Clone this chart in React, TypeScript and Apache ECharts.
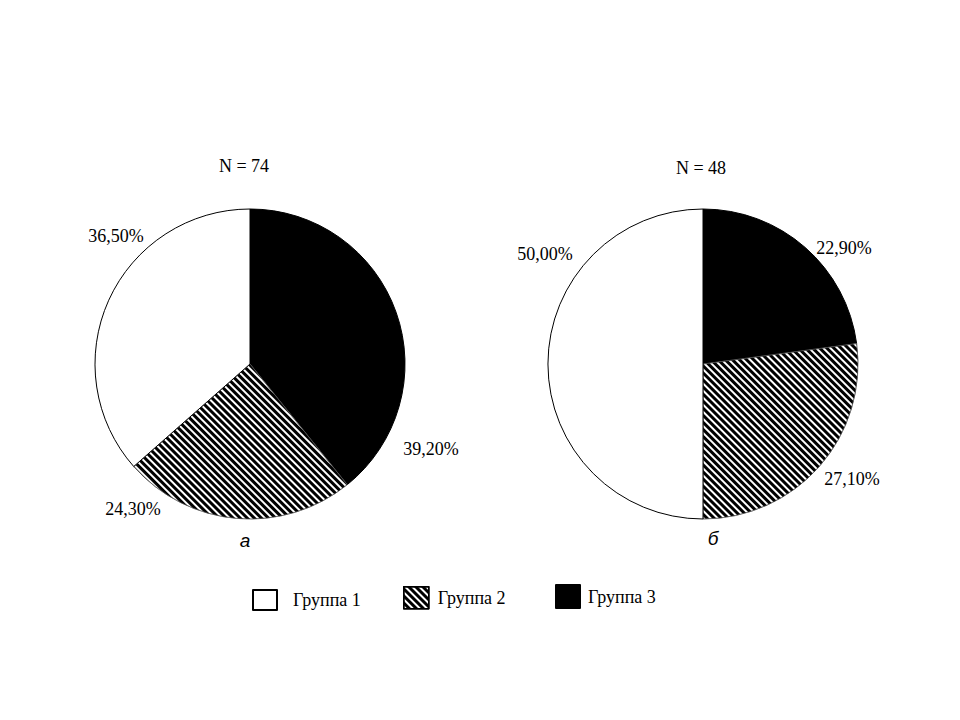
import React, { useEffect, useRef } from "react";
import * as echarts from "echarts";

// Data
const groupNames = ["Группа 1", "Группа 2", "Группа 3"];
const pieA = [
  { name: "Группа 3", value: 39.2 },
  { name: "Группа 2", value: 24.3 },
  { name: "Группа 1", value: 36.5 },
];
const pieB = [
  { name: "Группа 3", value: 22.9 },
  { name: "Группа 2", value: 27.1 },
  { name: "Группа 1", value: 50.0 },
];
const titlesN = ["N = 74", "N = 48"];
const subLabels = ["а", "б"];

// Layout (label positions in px, per pie, per data index)
const labelPosA: [number, number][] = [
  [431, 449],
  [133, 509],
  [116, 236],
];
const labelPosB: [number, number][] = [
  [844, 248],
  [852, 479],
  [545, 254],
];

const SERIF = "Liberation Serif";
const SANS = "Liberation Sans";

const hatchDecal = {
  symbol: "rect",
  symbolSize: 1,
  dashArrayX: [1, 0],
  dashArrayY: [3, 2],
  rotation: Math.PI / 4,
  color: "#000",
};

function styleFor(name: string) {
  if (name === "Группа 3") {
    return { color: "#000", borderColor: "#000", borderWidth: 1 };
  }
  if (name === "Группа 2") {
    return { color: "#fff", borderColor: "#555", borderWidth: 0.6, decal: hatchDecal };
  }
  return { color: "#fff", borderColor: "#000", borderWidth: 1 };
}

const fmt = (v: number) => v.toFixed(2).replace(".", ",") + "%";

export default function App() {
  const ref = useRef<HTMLDivElement>(null);
  useEffect(() => {
    if (!ref.current) return;
    const chart = echarts.init(ref.current, undefined, { renderer: "svg" });
    const mkSeries = (data: any[], center: number[], pos: [number, number][]) => ({
      type: "pie",
      center,
      radius: 155,
      startAngle: 90,
      clockwise: true,
      silent: true,
      data: data.map((d) => ({ ...d, itemStyle: styleFor(d.name) })),
      label: {
        show: true,
        position: "outside",
        overflow: "none",
        formatter: (p: any) => fmt(p.value),
        fontFamily: SERIF,
        fontSize: 18,
        color: "#000",
      },
      labelLine: { show: false },
      labelLayout: (params: any) => {
        const p = pos[params.dataIndex];
        return { x: p[0], y: p[1], align: "center", verticalAlign: "middle" };
      },
    });
    const legendPos = [
      { left: 252, top: 589, w: 24, h: 20, pad: 11, ty: 3 },
      { left: 403, top: 586, w: 25, h: 22, pad: 4, ty: 0 },
      { left: 555, top: 584, w: 24, h: 23, pad: 3, ty: 0 },
    ];
    chart.setOption({
      animation: false,
      backgroundColor: "#fff",
      legend: groupNames.map((g, i) => ({
        left: legendPos[i].left,
        top: legendPos[i].top,
        padding: 0,
        itemWidth: legendPos[i].w,
        itemHeight: legendPos[i].h,
        icon: "rect",
        selectedMode: false,
        data: [
          {
            name: g,
            itemStyle:
              g === "Группа 1"
                ? { borderColor: "#000", borderWidth: 2 }
                : g === "Группа 2"
                ? { borderColor: "#000", borderWidth: 1.5 }
                : {},
          },
        ],
        textStyle: {
          fontFamily: SERIF,
          fontSize: 18,
          color: "#000",
          padding: [legendPos[i].ty, 0, 0, legendPos[i].pad],
        },
      })),
      graphic: [
        {
          type: "text",
          x: 244,
          y: 166,
          style: { text: titlesN[0], font: `18px '${SERIF}'`, fill: "#000", align: "center", verticalAlign: "middle", textAlign: "center", textVerticalAlign: "middle" },
        },
        {
          type: "text",
          x: 701,
          y: 168,
          style: { text: titlesN[1], font: `18px '${SERIF}'`, fill: "#000", align: "center", verticalAlign: "middle", textAlign: "center", textVerticalAlign: "middle" },
        },
        {
          type: "text",
          x: 245,
          y: 540,
          style: { text: subLabels[0], font: `italic 19px '${SANS}'`, fill: "#000", align: "center", verticalAlign: "middle", textAlign: "center", textVerticalAlign: "middle" },
        },
        {
          type: "text",
          x: 713,
          y: 538,
          style: { text: subLabels[1], font: `italic 19px '${SANS}'`, fill: "#000", align: "center", verticalAlign: "middle", textAlign: "center", textVerticalAlign: "middle" },
        },
      ],
      series: [
        mkSeries(pieA, [250, 364], labelPosA),
        mkSeries(pieB, [703, 364], labelPosB),
      ],
    });
    return () => chart.dispose();
  }, []);
  return <div ref={ref} style={{ width: 960, height: 720, position: "absolute", left: 0, top: 0 }} />;
}
